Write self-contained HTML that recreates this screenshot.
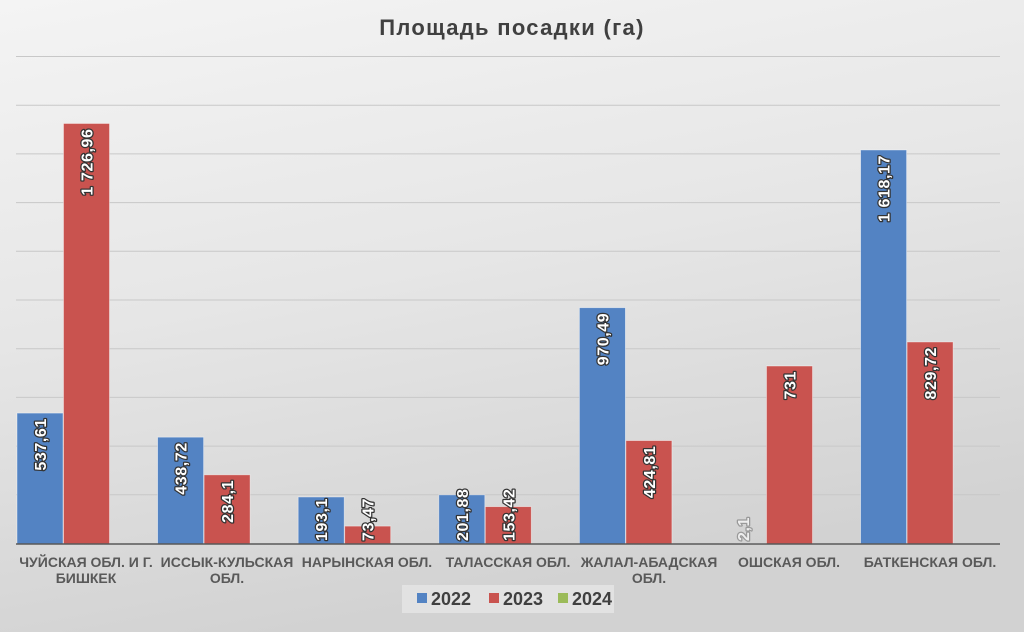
<!DOCTYPE html>
<html><head><meta charset="utf-8"><style>
html,body{margin:0;padding:0;width:1024px;height:632px;overflow:hidden}
</style></head><body>
<svg width="1024" height="632" viewBox="0 0 1024 632" xmlns="http://www.w3.org/2000/svg" font-family="Liberation Sans, DejaVu Sans, sans-serif">
<defs>
<linearGradient id="bg" x1="0" y1="0" x2="0.3" y2="1">
<stop offset="0" stop-color="#f4f4f4"/><stop offset="0.5" stop-color="#e6e6e6"/><stop offset="1" stop-color="#d2d2d2"/>
</linearGradient>
</defs>
<rect width="1024" height="632" fill="url(#bg)"/>
<text x="512" y="35" text-anchor="middle" font-size="22" font-weight="bold" fill="#404040" letter-spacing="1.3">Площадь посадки (га)</text>
<g stroke="#c8c8c8" stroke-width="1">
<line x1="16" x2="1000" y1="56.5" y2="56.5"/><line x1="16" x2="1000" y1="105.2" y2="105.2"/><line x1="16" x2="1000" y1="153.9" y2="153.9"/><line x1="16" x2="1000" y1="202.6" y2="202.6"/><line x1="16" x2="1000" y1="251.3" y2="251.3"/><line x1="16" x2="1000" y1="300" y2="300"/><line x1="16" x2="1000" y1="348.7" y2="348.7"/><line x1="16" x2="1000" y1="397.4" y2="397.4"/><line x1="16" x2="1000" y1="446.1" y2="446.1"/><line x1="16" x2="1000" y1="494.8" y2="494.8"/>
</g>
<g id="bars"></g>
<line x1="16" x2="1000" y1="544" y2="544" stroke="#595959" stroke-width="1.5"/>
<g id="lbl" font-size="16" font-weight="bold" fill="#fff" stroke="#333" stroke-width="2.5" paint-order="stroke" stroke-linejoin="round" letter-spacing="0.6"></g>
<g font-size="14" font-weight="bold" fill="#595959" text-anchor="middle">
<text x="86" y="567">ЧУЙСКАЯ ОБЛ. И Г.</text><text x="86" y="583">БИШКЕК</text>
<text x="227" y="567">ИССЫК-КУЛЬСКАЯ</text><text x="227" y="583">ОБЛ.</text>
<text x="367" y="567">НАРЫНСКАЯ ОБЛ.</text>
<text x="508" y="567">ТАЛАССКАЯ ОБЛ.</text>
<text x="649" y="567">ЖАЛАЛ-АБАДСКАЯ</text><text x="649" y="583">ОБЛ.</text>
<text x="789" y="567">ОШСКАЯ ОБЛ.</text>
<text x="930" y="567">БАТКЕНСКАЯ ОБЛ.</text>
</g>
<rect x="402" y="585" width="212" height="28" fill="#ececec" opacity="0.6"/>
<g font-size="18" font-weight="bold" fill="#404040">
<rect x="417" y="593" width="10" height="10" fill="#5383c3"/><text x="431" y="605">2022</text>
<rect x="489" y="593" width="10" height="10" fill="#c9534f"/><text x="503" y="605">2023</text>
<rect x="558" y="593" width="10" height="10" fill="#9bbb59"/><text x="572" y="605">2024</text>
</g>
</svg>
<script>
var d=[[537.61,1726.96,"537,61","1 726,96"],[438.72,284.1,"438,72","284,1"],[193.1,73.47,"193,1","73,47"],[201.88,153.42,"201,88","153,42"],[970.49,424.81,"970,49","424,81"],[2.1,731,"2,1","731"],[1618.17,829.72,"1 618,17","829,72"]];
var ns="http://www.w3.org/2000/svg",B=document.getElementById("bars"),L=document.getElementById("lbl");
function y(v){return 544-v*0.2435;}
d.forEach(function(r,i){
 var left=16+140.6*i;
 [[r[0],r[2],left+1,"#5383c3"],[r[1],r[3],left+47.5,"#c9534f"]].forEach(function(b){
  var t=y(b[0]);
  var re=document.createElementNS(ns,"rect");
  re.setAttribute("x",b[2]);re.setAttribute("y",t);re.setAttribute("width",46);re.setAttribute("height",544-t);re.setAttribute("fill",b[3]);
  re.setAttribute("stroke","#fff");re.setAttribute("stroke-opacity","0.5");re.setAttribute("stroke-width","0.8");
  B.appendChild(re);
  var len=b[1].length*9.6, tx=document.createElementNS(ns,"text");
  var cx=b[2]+23+6, yy, anchor;
  if(544-t>len+12){yy=t+5;anchor="end";}else{yy=541;anchor="start";}
  tx.setAttribute("text-anchor",anchor);
  tx.setAttribute("transform","translate("+cx+","+yy+") rotate(-90)");
  tx.textContent=b[1];
  if(b[0]<5){tx.setAttribute("fill","#eee");tx.setAttribute("stroke","#999");}
  L.appendChild(tx);
 });
});
</script>
</body></html>
